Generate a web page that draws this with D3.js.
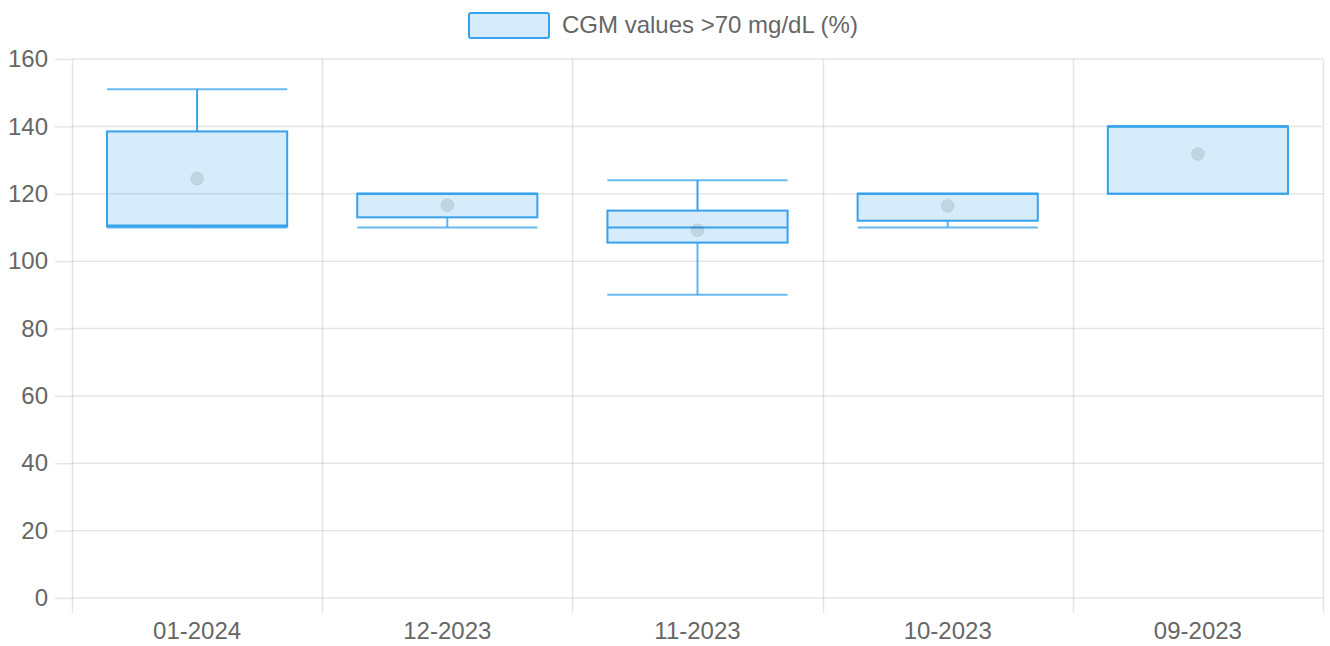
<!DOCTYPE html>
<html>
<head>
<meta charset="utf-8">
<script src="https://cdn.jsdelivr.net/npm/d3@7"></script>
<style>
  body { margin: 0; background: #fff; }
  text { font-family: "Liberation Sans", Arial, sans-serif; fill: #666; }
</style>
</head>
<body>
<div id="box_cgm"></div>
<script>
// data
var categories = ["01-2024", "12-2023", "11-2023", "10-2023", "09-2023"];
var minValues = [110, 110, 90, 110, 120];
var q1Values = [110.3, 113, 105.5, 112, 120];
var medianValues = [110.6, 120, 110, 120, 140];
var q3Values = [138.5, 120, 115, 120, 140];
var maxValues = [151, 120, 124, 120, 140];
var meanValues = [124.5, 116.6, 109.2, 116.4, 131.8];
var yTicks = [0, 20, 40, 60, 80, 100, 120, 140, 160];
var seriesLabel = "CGM values >70 mg/dL (%)";

// set the dimensions and margins of the graph
var width = 1330, height = 646;
var margin = { top: 59, right: 7, bottom: 48, left: 72 };
var blue = "rgb(54,162,235)";
var fill = "rgba(54,162,235,0.2)";
var grid = "rgba(0,0,0,0.1)";
var fontSize = "24px";

var svg = d3.select("#box_cgm")
    .append("svg")
    .attr("width", width)
    .attr("height", height);

var rows = categories.map(function (c, i) {
    return { cat: c, min: minValues[i], q1: q1Values[i], med: medianValues[i],
             q3: q3Values[i], max: maxValues[i], mean: meanValues[i] };
});

// scales
var x = d3.scaleBand()
    .domain(categories)
    .range([margin.left, width - margin.right])
    .padding(0);
var y = d3.scaleLinear()
    .domain([0, 160])
    .range([height - margin.bottom, margin.top]);

// x axis labels
var gx = svg.append("g")
    .attr("transform", "translate(0," + (height - margin.bottom) + ")")
    .call(d3.axisBottom(x).tickSize(0).tickPadding(24));
gx.select(".domain").remove();
gx.selectAll("text").style("font-size", fontSize).style("fill", "#666");

// vertical grid lines at category bounds
var bounds = categories.map(function (c) { return x(c); }).concat([width - margin.right]);
svg.append("g").selectAll("line")
    .data(bounds)
    .enter().append("line")
    .attr("x1", function (d) { return Math.round(d) + 0.5; })
    .attr("x2", function (d) { return Math.round(d) + 0.5; })
    .attr("y1", margin.top)
    .attr("y2", height - margin.bottom + 15)
    .attr("stroke", grid)
    .attr("stroke-width", 1.5);

// y axis
var gy = svg.append("g")
    .attr("transform", "translate(" + margin.left + ",0)")
    .call(d3.axisLeft(y).tickValues(yTicks).tickSize(17).tickPadding(7));
gy.select(".domain").remove();
gy.selectAll("line").attr("stroke", grid).attr("stroke-width", 1.5);
gy.selectAll("text").style("font-size", fontSize).style("fill", "#666");
svg.append("g").selectAll("line")
    .data(yTicks)
    .enter().append("line")
    .attr("x1", margin.left)
    .attr("x2", width - margin.right)
    .attr("y1", function (d) { return y(d); })
    .attr("y2", function (d) { return y(d); })
    .attr("stroke", grid)
    .attr("stroke-width", 1.5);

// boxes
var boxW = x.bandwidth() * 0.72;
var g = svg.append("g").selectAll("g")
    .data(rows)
    .enter().append("g");

function cx(d) { return x(d.cat) + x.bandwidth() / 2; }

// whiskers
g.append("line")
    .attr("x1", cx).attr("x2", cx)
    .attr("y1", function (d) { return y(d.max); })
    .attr("y2", function (d) { return y(d.q3); })
    .attr("stroke", blue).attr("stroke-width", 2);
g.append("line")
    .attr("x1", cx).attr("x2", cx)
    .attr("y1", function (d) { return y(d.q1); })
    .attr("y2", function (d) { return y(d.min); })
    .attr("stroke", blue).attr("stroke-width", 2).attr("stroke-opacity", 0.8);
g.selectAll(".cap")
    .data(function (d) { return [d, d].map(function (r, i) { return { r: r, v: i ? r.min : r.max }; }); })
    .enter().append("line")
    .attr("x1", function (d) { return cx(d.r) - boxW / 2; })
    .attr("x2", function (d) { return cx(d.r) + boxW / 2; })
    .attr("y1", function (d) { return y(d.v); })
    .attr("y2", function (d) { return y(d.v); })
    .attr("stroke", blue).attr("stroke-width", 2).attr("stroke-opacity", 0.75);

g.append("rect")
    .attr("x", function (d) { return cx(d) - boxW / 2; })
    .attr("y", function (d) { return y(d.q3); })
    .attr("width", boxW)
    .attr("height", function (d) { return y(d.q1) - y(d.q3); })
    .attr("fill", fill)
    .attr("stroke", blue)
    .attr("stroke-width", 2);

g.append("line")
    .attr("x1", function (d) { return cx(d) - boxW / 2; })
    .attr("x2", function (d) { return cx(d) + boxW / 2; })
    .attr("y1", function (d) { return y(d.med); })
    .attr("y2", function (d) { return y(d.med); })
    .attr("stroke", blue).attr("stroke-width", 2);

// mean dot
g.append("circle")
    .attr("cx", cx)
    .attr("cy", function (d) { return y(d.mean); })
    .attr("r", 6.5)
    .attr("fill", "rgba(0,0,0,0.1)")
    .attr("stroke", "rgba(0,0,0,0.05)");

// legend
var legend = svg.append("g");
legend.append("rect")
    .attr("x", 469).attr("y", 13)
    .attr("width", 80).attr("height", 25)
    .attr("rx", 2)
    .attr("fill", fill)
    .attr("stroke", blue)
    .attr("stroke-width", 2);
legend.append("text")
    .attr("x", 562).attr("y", 25)
    .attr("dy", "0.35em")
    .style("font-size", fontSize)
    .text(seriesLabel);
</script>
</body>
</html>
